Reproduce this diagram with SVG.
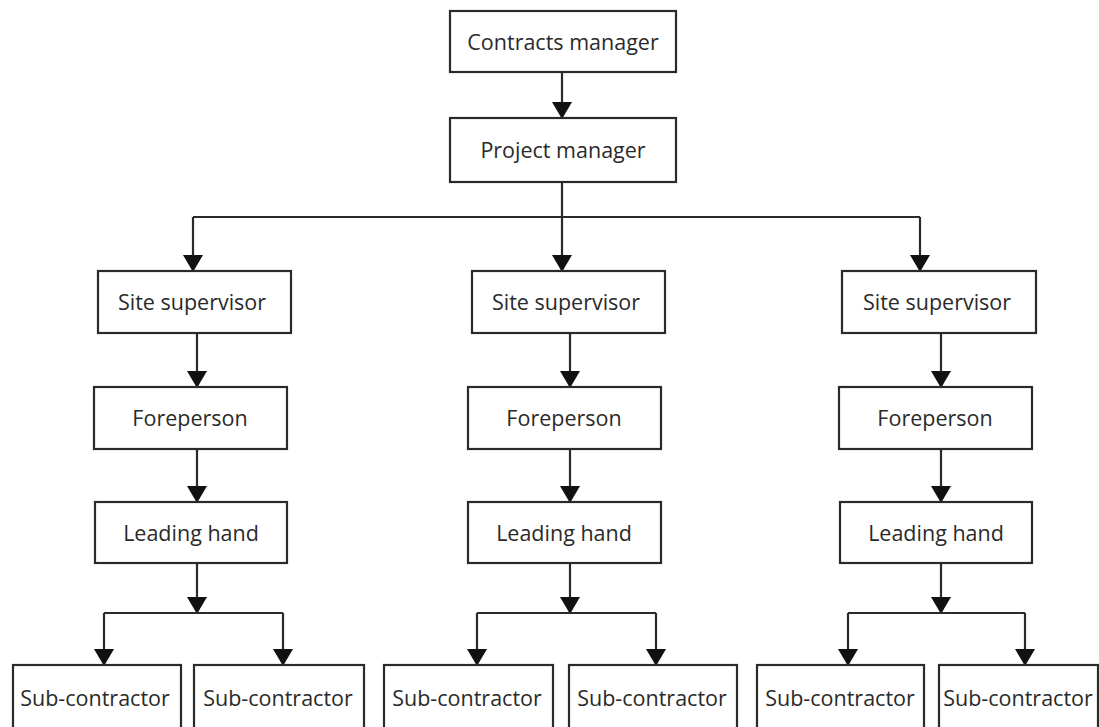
<svg xmlns="http://www.w3.org/2000/svg" width="1099" height="727" viewBox="0 0 1099 727">
<style>
.box{fill:#fff;stroke:#2a2a2a;stroke-width:2.2}
.lbl{font-family:"Open Sans","Noto Sans",sans-serif;font-size:21.5px;fill:#2a2a2a;text-anchor:middle}
.ln{fill:none;stroke:#2a2a2a;stroke-width:2.2}
.ar{marker-end:url(#ah)}
</style>
<defs>
<marker id="ah" viewBox="0 0 17 20" markerWidth="17" markerHeight="20" refX="16" refY="10" orient="auto" markerUnits="userSpaceOnUse">
<path d="M0,0 L17,10 L0,20 Z" fill="#111"/>
</marker>
</defs>
<rect width="1099" height="727" fill="#fff"/>
<g id="connectors">
<path class="ln ar" d="M562,72 V118"/>
<path class="ln" d="M562,182 V217 M193,217 H920"/>
<path class="ln ar" d="M193,217 V271"/>
<path class="ln ar" d="M562,217 V271"/>
<path class="ln ar" d="M920,217 V271"/>
<path class="ln ar" d="M197,333 V387"/>
<path class="ln ar" d="M197,449 V502"/>
<path class="ln ar" d="M197,563 V613"/>
<path class="ln" d="M104,613 H283"/>
<path class="ln ar" d="M104,613 V665"/>
<path class="ln ar" d="M283,613 V665"/>
<path class="ln ar" d="M570,333 V387"/>
<path class="ln ar" d="M570,449 V502"/>
<path class="ln ar" d="M570,563 V613"/>
<path class="ln" d="M477,613 H656"/>
<path class="ln ar" d="M477,613 V665"/>
<path class="ln ar" d="M656,613 V665"/>
<path class="ln ar" d="M941,333 V387"/>
<path class="ln ar" d="M941,449 V502"/>
<path class="ln ar" d="M941,563 V613"/>
<path class="ln" d="M848,613 H1025"/>
<path class="ln ar" d="M848,613 V665"/>
<path class="ln ar" d="M1025,613 V665"/>
</g>
<g id="contracts-manager"><rect class="box" x="450" y="11" width="226" height="61"/><text class="lbl" x="563" y="49.5">Contracts manager</text></g>
<g id="project-manager"><rect class="box" x="450" y="118" width="226" height="64"/><text class="lbl" x="563" y="158">Project manager</text></g>
<g id="site-supervisor-1"><rect class="box" x="98" y="271" width="193" height="62"/><text class="lbl" x="192" y="310">Site supervisor</text></g>
<g id="site-supervisor-2"><rect class="box" x="472" y="271" width="193" height="62"/><text class="lbl" x="566" y="310">Site supervisor</text></g>
<g id="site-supervisor-3"><rect class="box" x="842" y="271" width="194" height="62"/><text class="lbl" x="937" y="310">Site supervisor</text></g>
<g id="foreperson-1"><rect class="box" x="94" y="387" width="193" height="62"/><text class="lbl" x="190" y="426">Foreperson</text></g>
<g id="foreperson-2"><rect class="box" x="468" y="387" width="193" height="62"/><text class="lbl" x="564" y="426">Foreperson</text></g>
<g id="foreperson-3"><rect class="box" x="839" y="387" width="193" height="62"/><text class="lbl" x="935" y="426">Foreperson</text></g>
<g id="leading-hand-1"><rect class="box" x="95" y="502" width="192" height="61"/><text class="lbl" x="191" y="540.5">Leading hand</text></g>
<g id="leading-hand-2"><rect class="box" x="468" y="502" width="193" height="61"/><text class="lbl" x="564" y="540.5">Leading hand</text></g>
<g id="leading-hand-3"><rect class="box" x="840" y="502" width="192" height="61"/><text class="lbl" x="936" y="540.5">Leading hand</text></g>
<g id="sub-contractor-1"><rect class="box" x="13" y="665" width="168" height="70"/><text class="lbl" x="95" y="706">Sub-contractor</text></g>
<g id="sub-contractor-2"><rect class="box" x="194" y="665" width="170" height="70"/><text class="lbl" x="278" y="706">Sub-contractor</text></g>
<g id="sub-contractor-3"><rect class="box" x="384" y="665" width="169" height="70"/><text class="lbl" x="467" y="706">Sub-contractor</text></g>
<g id="sub-contractor-4"><rect class="box" x="569" y="665" width="168" height="70"/><text class="lbl" x="652" y="706">Sub-contractor</text></g>
<g id="sub-contractor-5"><rect class="box" x="757" y="665" width="167" height="70"/><text class="lbl" x="840" y="706">Sub-contractor</text></g>
<g id="sub-contractor-6"><rect class="box" x="939" y="665" width="159" height="70"/><text class="lbl" x="1018" y="706">Sub-contractor</text></g>
</svg>
